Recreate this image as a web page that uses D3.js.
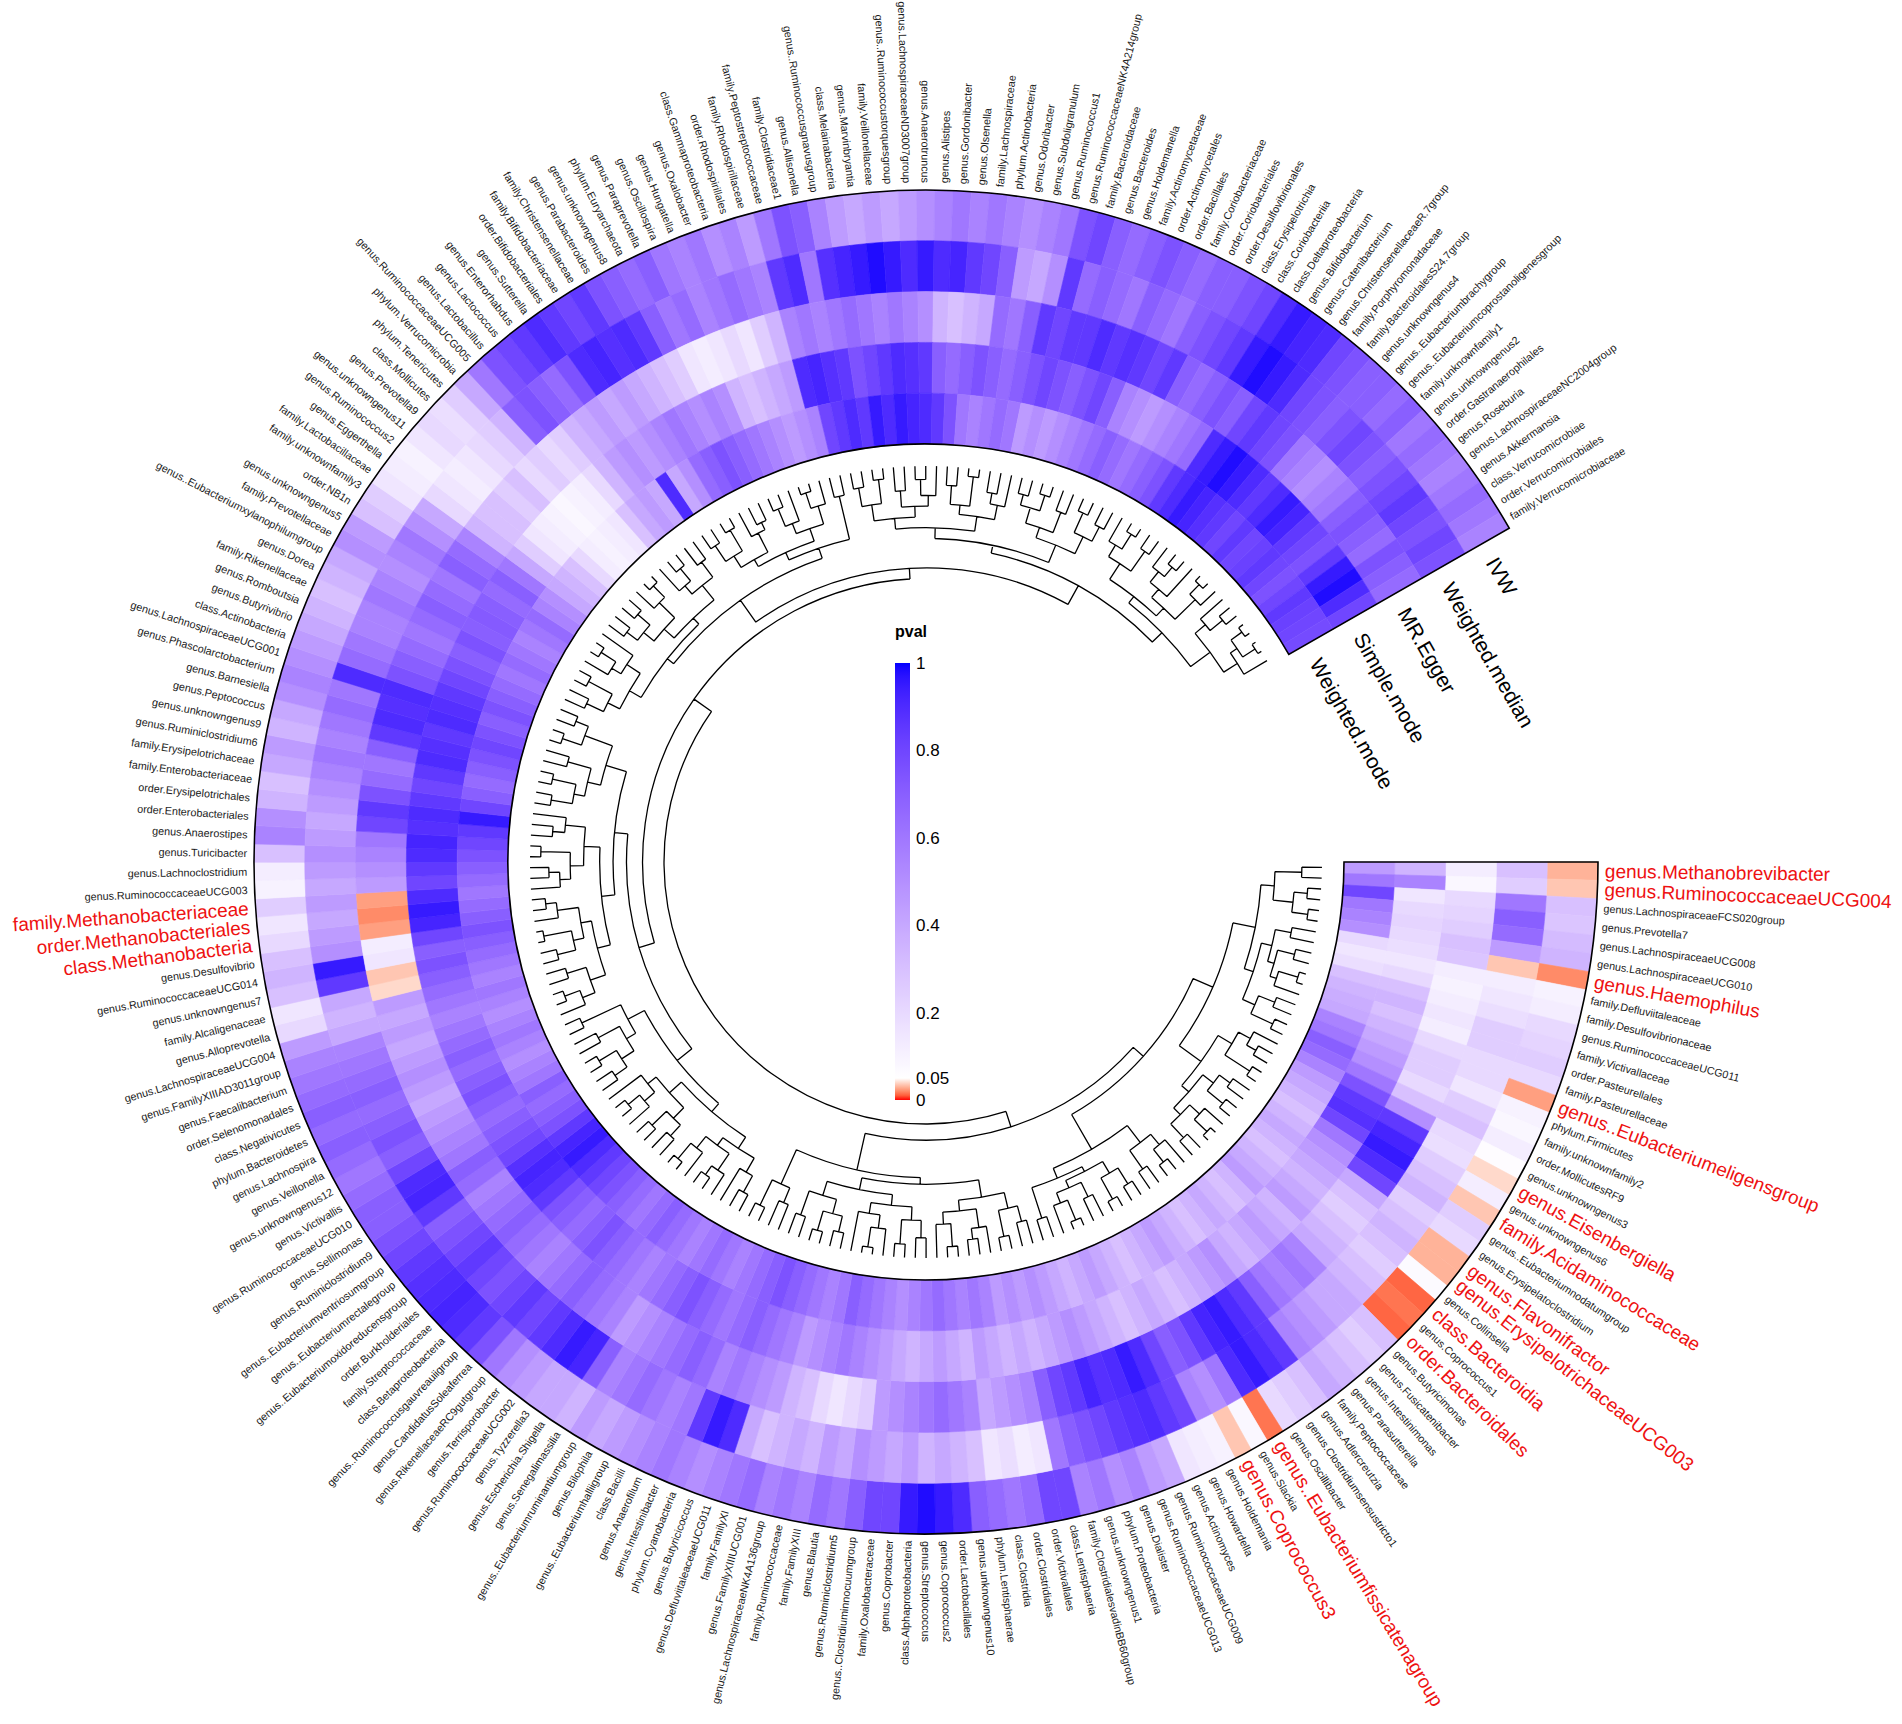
<!DOCTYPE html>
<html>
<head>
<meta charset="utf-8">
<script src="https://cdn.jsdelivr.net/npm/d3@7"></script>
<style>
  body { margin: 0; background: #fff; }
</style>
</head>
<body>
<div class="chart"></div>
<script>
// taxa in clockwise order, starting at 3 o'clock
const taxa = [
"genus.Methanobrevibacter","genus.RuminococcaceaeUCG004","genus.LachnospiraceaeFCS020group","genus.Prevotella7","genus.LachnospiraceaeUCG008","genus.LachnospiraceaeUCG010","genus.Haemophilus","family.Defluviitaleaceae","family.Desulfovibrionaceae","genus.RuminococcaceaeUCG011",
"family.Victivallaceae","order.Pasteurellales","family.Pasteurellaceae","genus..Eubacteriumeligensgroup","phylum.Firmicutes","family.unknownfamily2","order.MollicutesRF9","genus.unknowngenus3","genus.Eisenbergiella","genus.unknowngenus6",
"family.Acidaminococcaceae","genus..Eubacteriumnodatumgroup","genus.Erysipelatoclostridium","genus.Flavonifractor","genus.ErysipelotrichaceaeUCG003","genus.Collinsella","class.Bacteroidia","genus.Coprococcus1","order.Bacteroidales","genus.Butyricimonas",
"genus.Fusicatenibacter","genus.Intestinimonas","genus.Parasutterella","family.Peptococcaceae","genus.Adlercreutzia","genus.Clostridiumsensustricto1","genus.Oscillibacter","genus..Eubacteriumfissicatenagroup","genus.Slackia","genus.Coprococcus3",
"genus.Holdemania","genus.Howardella","genus.Actinomyces","genus.RuminococcaceaeUCG009","genus.RuminococcaceaeUCG013","genus.Dialister","phylum.Proteobacteria","genus.unknowngenus1","family.ClostridialesvadinBB60group","class.Lentisphaeria",
"order.Victivallales","order.Clostridiales","class.Clostridia","phylum.Lentisphaerae","genus.unknowngenus10","order.Lactobacillales","genus.Coprococcus2","genus.Streptococcus","class.Alphaproteobacteria","genus.Coprobacter",
"family.Oxalobacteraceae","genus..Clostridiuminnocuumgroup","genus.Ruminiclostridium5","genus.Blautia","family.FamilyXIII","family.Ruminococcaceae","genus.LachnospiraceaeNK4A136group","genus.FamilyXIIIUCG001","family.FamilyXI","genus.DefluviitaleaceaeUCG011",
"genus.Butyricicoccus","phylum.Cyanobacteria","genus.Intestinibacter","genus.Anaerofilum","class.Bacilli","genus..Eubacteriumhalliigroup","genus.Bilophila","genus..Eubacteriumruminantiumgroup","genus.Senegalimassilia","genus.Escherichia.Shigella",
"genus.Tyzzerella3","genus.RuminococcaceaeUCG002","genus.Terrisporobacter","genus.RikenellaceaeRC9gutgroup","genus.CandidatusSoleaferrea","genus..Ruminococcusgauvreauiigroup","class.Betaproteobacteria","family.Streptococcaceae","order.Burkholderiales","genus..Eubacteriumoxidoreducensgroup",
"genus..Eubacteriumrectalegroup","genus..Eubacteriumventriosumgroup","genus.Ruminiclostridium9","genus.Sellimonas","genus.RuminococcaceaeUCG010","genus.Victivallis","genus.unknowngenus12","genus.Veillonella","genus.Lachnospira","phylum.Bacteroidetes",
"class.Negativicutes","order.Selenomonadales","genus.Faecalibacterium","genus.FamilyXIIIAD3011group","genus.LachnospiraceaeUCG004","genus.Alloprevotella","family.Alcaligenaceae","genus.unknowngenus7","genus.RuminococcaceaeUCG014","genus.Desulfovibrio",
"class.Methanobacteria","order.Methanobacteriales","family.Methanobacteriaceae","genus.RuminococcaceaeUCG003","genus.Lachnoclostridium","genus.Turicibacter","genus.Anaerostipes","order.Enterobacteriales","order.Erysipelotrichales","family.Enterobacteriaceae",
"family.Erysipelotrichaceae","genus.Ruminiclostridium6","genus.unknowngenus9","genus.Peptococcus","genus.Barnesiella","genus.Phascolarctobacterium","genus.LachnospiraceaeUCG001","class.Actinobacteria","genus.Butyrivibrio","genus.Romboutsia",
"family.Rikenellaceae","genus.Dorea","genus..Eubacteriumxylanophilumgroup","family.Prevotellaceae","genus.unknowngenus5","order.NB1n","family.unknownfamily3","family.Lactobacillaceae","genus.Eggerthella","genus.Ruminococcus2",
"genus.unknowngenus11","genus.Prevotella9","class.Mollicutes","phylum.Tenericutes","phylum.Verrucomicrobia","genus.RuminococcaceaeUCG005","genus.Lactobacillus","genus.Lactococcus","genus.Enterorhabdus","genus.Sutterella",
"order.Bifidobacteriales","family.Bifidobacteriaceae","family.Christensenellaceae","genus.Parabacteroides","genus.unknowngenus8","phylum.Euryarchaeota","genus.Paraprevotella","genus.Oscillospira","genus.Hungatella","genus.Oxalobacter",
"class.Gammaproteobacteria","order.Rhodospirillales","family.Rhodospirillaceae","family.Peptostreptococcaceae","family.Clostridiaceae1","genus.Allisonella","genus..Ruminococcusgnavusgroup","class.Melainabacteria","genus.Marvinbryantia","family.Veillonellaceae",
"genus..Ruminococcustorquesgroup","genus.LachnospiraceaeND3007group","genus.Anaerotruncus","genus.Alistipes","genus.Gordonibacter","genus.Olsenella","family.Lachnospiraceae","phylum.Actinobacteria","genus.Odoribacter","genus.Subdoligranulum",
"genus.Ruminococcus1","genus.RuminococcaceaeNK4A214group","family.Bacteroidaceae","genus.Bacteroides","genus.Holdemanella","family.Actinomycetaceae","order.Actinomycetales","order.Bacillales","family.Coriobacteriaceae","order.Coriobacteriales",
"order.Desulfovibrionales","class.Erysipelotrichia","class.Coriobacteriia","class.Deltaproteobacteria","genus.Bifidobacterium","genus.Catenibacterium","genus.ChristensenellaceaeR.7group","family.Porphyromonadaceae","family.BacteroidalesS24.7group","genus.unknowngenus4",
"genus..Eubacteriumbrachygroup","genus..Eubacteriumcoprostanoligenesgroup","family.unknownfamily1","genus.unknowngenus2","order.Gastranaerophilales","genus.Roseburia","genus.LachnospiraceaeNC2004group","genus.Akkermansia","class.Verrucomicrobiae","order.Verrucomicrobiales",
"family.Verrucomicrobiaceae"
];

// highlighted taxa (drawn big and red)
const redTaxa = [
"genus.Methanobrevibacter","genus.RuminococcaceaeUCG004","genus.Haemophilus","genus..Eubacteriumeligensgroup",
"genus.Eisenbergiella","family.Acidaminococcaceae","genus.Flavonifractor","genus.ErysipelotrichaceaeUCG003",
"class.Bacteroidia","order.Bacteroidales","genus..Eubacteriumfissicatenagroup","genus.Coprococcus3",
"class.Methanobacteria","order.Methanobacteriales","family.Methanobacteriaceae"
];

// methods, outer ring first
const methods = ["IVW", "Weighted.median", "MR.Egger", "Simple.mode", "Weighted.mode"];

// p values per method (same order as taxa)
const ivw = [
.03,.035,.30,.28,.32,.35,.02,.10,.12,.20, .22,.25,.20,.025,.10,.08,.12,.06,.04,.12,
.035,.25,.20,.03,.03,.07,.012,.015,.012,.30, .25,.30,.35,.40,.30,.25,.20,.015,.08,.035,
.10,.12,.15,.40,.45,.55,.50,.60,.55,.80, .80,.65,.60,.65,.70,.90,.95,.98,.95,.80,
.80,.70,.60,.65,.55,.60,.55,.65,.60,.55, .50,.55,.60,.55,.50,.45,.40,.45,.35,.40,
.40,.45,.50,.60,.75,.85,.90,.92,.90,.88, .85,.80,.75,.70,.70,.65,.60,.65,.70,.65,
.70,.65,.60,.55,.45,.20,.15,.30,.35,.30, .20,.15,.25,.10,.12,.30,.55,.50,.35,.30,
.40,.45,.35,.40,.50,.55,.50,.45,.40,.35, .30,.35,.40,.50,.45,.30,.25,.15,.12,.10,
.15,.20,.18,.25,.40,.60,.75,.80,.85,.90, .85,.80,.85,.75,.70,.65,.70,.60,.55,.60,
.50,.55,.45,.60,.75,.70,.55,.45,.40,.45, .40,.45,.50,.55,.60,.55,.60,.55,.50,.55,
.60,.75,.80,.70,.65,.70,.75,.70,.65,.70, .70,.75,.80,.90,.95,.92,.90,.80,.75,.70,
.70,.65,.70,.60,.65,.60,.55,.60,.65,.60,.55
];
const weightedMedian = [
.30,.25,.60,.70,.65,.45,.035,.12,.15,.18, .25,.25,.20,.20,.15,.25,.30,.20,.18,.25,
.30,.35,.25,.30,.35,.30,.25,.30,.35,.40, .40,.45,.50,.55,.85,.90,.95,.90,.60,.50,
.55,.80,.85,.90,.88,.85,.80,.75,.70,.60, .15,.12,.18,.15,.30,.35,.40,.35,.45,.40,
.45,.50,.40,.45,.35,.40,.35,.30,.40,.90, .95,.85,.60,.55,.60,.65,.60,.55,.70,.92,
.95,.90,.85,.80,.85,.80,.75,.80,.85,.80, .75,.70,.85,.92,.90,.80,.70,.75,.70,.65,
.70,.65,.60,.55,.40,.35,.40,.85,.95,.50, .45,.40,.45,.40,.45,.50,.45,.40,.45,.50,
.55,.60,.55,.60,.65,.60,.90,.65,.60,.55, .55,.60,.55,.50,.55,.60,.50,.40,.20,.15,
.12,.15,.20,.25,.35,.70,.75,.70,.65,.75, .90,.92,.88,.90,.85,.70,.60,.65,.55,.60,
.65,.60,.55,.85,.90,.60,.88,.92,.95,.98, .95,.90,.95,.90,.92,.85,.80,.70,.45,.40,
.50,.85,.65,.70,.65,.60,.70,.65,.60,.70, .75,.80,.85,.95,.98,.95,.90,.80,.75,.70,
.75,.80,.75,.70,.75,.80,.85,.80,.75,.80,.75
];
const mrEgger = [
.12,.08,.20,.22,.25,.30,.28,.12,.10,.12, .15,.12,.20,.25,.25,.20,.30,.50,.85,.92,
.95,.90,.80,.40,.30,.25,.30,.35,.40,.55, .60,.55,.60,.70,.85,.90,.95,.92,.85,.75,
.70,.80,.90,.95,.90,.88,.92,.85,.80,.70, .55,.50,.45,.40,.55,.60,.65,.60,.55,.50,
.45,.25,.20,.15,.20,.30,.35,.45,.50,.55, .60,.55,.65,.70,.65,.60,.55,.50,.45,.55,
.60,.65,.70,.65,.60,.55,.60,.65,.70,.65, .60,.55,.65,.70,.60,.55,.50,.45,.40,.45,
.50,.45,.40,.45,.40,.45,.04,.035,.15,.12, .025,.02,.025,.45,.50,.55,.60,.80,.85,.75,
.65,.60,.70,.85,.90,.88,.90,.75,.70,.65, .60,.65,.70,.65,.60,.70,.65,.55,.35,.30,
.30,.25,.30,.20,.25,.20,.25,.35,.40,.45, .40,.45,.40,.35,.30,.25,.15,.12,.15,.20,
.15,.25,.35,.55,.60,.55,.60,.65,.60,.55, .60,.55,.50,.35,.30,.35,.40,.65,.60,.70,
.85,.80,.85,.85,.90,.85,.88,.85,.80,.85, .70,.65,.70,.75,.70,.80,.85,.80,.75,.60,
.55,.50,.55,.60,.70,.75,.70,.65,.75,.70,.65
];
const simpleMode = [
.35,.55,.15,.20,.22,.20,.18,.15,.20,.30, .35,.30,.35,.40,.45,.50,.60,.75,.85,.88,
.80,.60,.50,.45,.40,.35,.40,.45,.35,.40, .45,.40,.35,.40,.50,.45,.40,.35,.30,.35,
.40,.35,.30,.35,.40,.45,.50,.45,.40,.35, .40,.35,.40,.45,.35,.40,.45,.40,.35,.40,
.45,.50,.55,.60,.55,.50,.45,.55,.60,.65, .70,.65,.60,.65,.70,.75,.70,.65,.60,.55,
.60,.65,.70,.75,.70,.65,.70,.75,.85,.90, .92,.88,.80,.75,.70,.65,.70,.75,.70,.65,
.70,.65,.60,.55,.60,.65,.70,.75,.70,.80, .92,.95,.90,.80,.85,.90,.92,.88,.90,.85,
.80,.85,.90,.88,.85,.90,.88,.85,.80,.75, .70,.75,.70,.72,.70,.65,.70,.60,.40,.25,
.15,.12,.10,.08,.10,.12,.20,.35,.45,.50, .45,.50,.55,.60,.55,.50,.55,.50,.35,.30,
.35,.40,.45,.90,.92,.88,.85,.75,.80,.85, .90,.88,.85,.70,.65,.70,.75,.70,.65,.70,
.75,.80,.75,.70,.75,.80,.70,.55,.50,.45, .50,.55,.60,.65,.90,.95,.98,.95,.90,.85,
.90,.95,.92,.85,.80,.75,.85,.95,.98,.90,.80
];
const weightedMode = [
.45,.60,.80,.60,.55,.50,.20,.15,.18,.30, .35,.38,.40,.55,.60,.70,.65,.55,.45,.40,
.35,.30,.35,.40,.35,.30,.35,.40,.45,.35, .30,.35,.40,.35,.30,.35,.40,.45,.40,.35,
.30,.35,.40,.45,.40,.35,.40,.45,.50,.45, .50,.45,.55,.60,.55,.60,.65,.60,.55,.50,
.55,.60,.65,.70,.60,.55,.60,.65,.70,.75, .70,.65,.60,.55,.60,.65,.60,.55,.60,.65,
.70,.65,.60,.65,.70,.75,.80,.85,.90,.95, .92,.85,.75,.70,.65,.70,.60,.55,.50,.55,
.60,.55,.50,.55,.60,.55,.60,.65,.70,.75, .70,.65,.60,.65,.70,.75,.80,.85,.95,.80,
.70,.65,.70,.75,.80,.75,.70,.75,.70,.65, .60,.65,.60,.55,.60,.65,.55,.50,.40,.35,
.30,.20,.12,.10,.12,.15,.30,.40,.45,.40, .90,.40,.50,.65,.70,.75,.70,.65,.60,.55,
.50,.45,.50,.55,.80,.85,.90,.85,.95,.90, .95,.92,.90,.85,.75,.60,.55,.60,.65,.60,
.45,.50,.45,.50,.55,.60,.65,.70,.65,.60, .65,.70,.75,.85,.90,.95,.92,.88,.85,.80,
.85,.80,.82,.85,.80,.75,.80,.85,.82,.80,.78
];

// dendrogram: height at which taxon i joins taxon i+1 (0 = leaves, 1 = root)
const mergeHeights = [
.15,.35,.10,.20,.08,.45,.18,.30,.12,.25, .05,.20,.38,.15,.28,.10,.62,.20,.12,.30,
.08,.42,.15,.25,.10,.35,.18,.05,.28,.14, .78,.22,.10,.32,.15,.48,.12,.26,.08,.36,
.18,.30,.06,.22,.40,.16,.88,.18,.30,.10, .42,.20,.12,.34,.08,.25,.55,.15,.28,.10,
.38,.20,.05,.30,.46,.12,.24,.09,.35,.16, .60,.20,.32,.11,1.0,.14,.28,.40,.18,.10,
.33,.22,.07,.50,.16,.27,.12,.38,.20,.09, .30,.58,.14,.25,.10,.36,.18,.44,.12,.72,
.20,.08,.30,.15,.42,.12,.26,.05,.34,.18, .10,.52,.22,.14,.30,.08,.40,.16,.25,.62,
.12,.28,.10,.36,.18,.46,.09,.24,.14,.84, .16,.30,.10,.40,.20,.07,.28,.50,.14,.24,
.12,.34,.18,.06,.44,.22,.10,.30,.16,.56, .12,.26,.08,.36,.20,.14,.42,.10,.24,.32,
.06,.18,.48,.15,.76,.12,.26,.08,.38,.18, .30,.10,.22,.46,.14,.28,.06,.35,.16,.24,
.54,.12,.20,.08,.32,.16,.40,.10,.26,.14, .60,.20,.07,.30,.12,.44,.18,.09,.28,.36,
.05,.15,.50,.22,.10,.32,.04,.14,.03,.20
];

const legendTicks = [1, 0.8, 0.6, 0.4, 0.2, 0.05, 0];

const series = {
  "IVW": ivw,
  "Weighted.median": weightedMedian,
  "MR.Egger": mrEgger,
  "Simple.mode": simpleMode,
  "Weighted.mode": weightedMode
};

// layout
const W = 1902, H = 1724;
const cx = 926, cy = 862;
const rInner = 418, rOuter = 672;
const rLeaf = 396, rRoot = 262;
const labelGap = 7;
const deg = Math.PI / 180;
const startA = 90 * deg;
const stepA = 1.565 * deg;
const endA = startA + stepA * taxa.length;
const font = "Arial, 'Liberation Sans', sans-serif";

const svg = d3.select(".chart")
  .append("svg")
  .attr("width", W)
  .attr("height", H)
  .style("background", "#fff");

const g = svg.append("g").attr("transform", `translate(${cx},${cy})`);

// scales
const angle = d3.scaleBand().domain(d3.range(taxa.length)).range([startA, endA]).padding(0);
const ring = d3.scaleBand().domain(methods.slice().reverse()).range([rInner, rOuter]).padding(0);
const color = d3.scaleLinear()
  .domain([0, 0.05, 1])
  .range(["#ff0000", "#ffffff", "#0000ff"])
  .interpolate(d3.interpolateLab)
  .clamp(true);
const height = d3.scaleLinear().domain([0, 1]).range([rLeaf, rRoot]);

const arc = d3.arc();

// heatmap cells
methods.forEach(m => {
  const vals = series[m];
  g.append("g")
    .attr("class", "ring")
    .selectAll("path")
    .data(vals)
    .join("path")
    .attr("d", (d, i) => arc({
      innerRadius: ring(m),
      outerRadius: ring(m) + ring.bandwidth(),
      startAngle: angle(i),
      endAngle: angle(i) + angle.bandwidth()
    }))
    .attr("fill", d => color(d))
    .attr("stroke", d => color(d))
    .attr("stroke-width", 0.6);
});

// heatmap border
g.append("path")
  .attr("d", arc({ innerRadius: rInner, outerRadius: rOuter, startAngle: startA, endAngle: endA }))
  .attr("fill", "none")
  .attr("stroke", "#000")
  .attr("stroke-width", 1.6);

// dendrogram
const polar = (a, r) => [r * Math.sin(a), -r * Math.cos(a)];
const tree = d3.path();
function build(lo, hi) {
  if (lo === hi) return { a: angle(lo) + angle.bandwidth() / 2, h: 0 };
  let m = lo;
  for (let j = lo; j < hi; j++) if (mergeHeights[j] > mergeHeights[m]) m = j;
  const left = build(lo, m), right = build(m + 1, hi);
  const h = mergeHeights[m];
  const r = height(h);
  [left, right].forEach(c => {
    tree.moveTo(...polar(c.a, height(c.h)));
    tree.lineTo(...polar(c.a, r));
  });
  tree.moveTo(...polar(left.a, r));
  tree.arc(0, 0, r, left.a - Math.PI / 2, right.a - Math.PI / 2, false);
  return { a: (left.a + right.a) / 2, h };
}
build(0, taxa.length - 1);
g.append("path")
  .attr("d", tree.toString())
  .attr("fill", "none")
  .attr("stroke", "#000")
  .attr("stroke-width", 1.3);

// taxon labels
const midDeg = i => (angle(i) + angle.bandwidth() / 2) / deg;
const isFlipped = i => {
  const b = ((midDeg(i) % 360) + 360) % 360;
  return b > 180 && b < 360;
};
g.append("g")
  .selectAll("text")
  .data(taxa)
  .join("text")
  .attr("transform", (d, i) =>
    `rotate(${midDeg(i) - 90}) translate(${rOuter + labelGap},0)` + (isFlipped(i) ? " rotate(180)" : ""))
  .attr("text-anchor", (d, i) => isFlipped(i) ? "end" : "start")
  .attr("dominant-baseline", "central")
  .style("font-family", font)
  .style("font-size", d => redTaxa.includes(d) ? "19px" : "10.8px")
  .attr("fill", d => redTaxa.includes(d) ? "#ee1111" : "#1a1a1a")
  .text(d => d);

// method labels at the end of the rings
g.append("g")
  .selectAll("text")
  .data(methods)
  .join("text")
  .attr("transform", m => {
    const r = ring(m) + ring.bandwidth() / 2;
    return `rotate(${endA / deg - 90}) translate(${r},0) rotate(90) translate(18,5)`;
  })
  .attr("dominant-baseline", "central")
  .style("font-family", font)
  .style("font-size", "21px")
  .attr("fill", "#000")
  .text(m => m);

// legend
const ly = d3.scaleLinear().domain([0, 1]).range([1100, 663]);
const grad = svg.append("defs").append("linearGradient")
  .attr("id", "pgrad")
  .attr("x1", 0).attr("y1", 0).attr("x2", 0).attr("y2", 1);
// stops must go top (p = 1) to bottom (p = 0)
d3.range(100, -1, -1).forEach(k => {
  const v = k / 100;
  grad.append("stop")
    .attr("offset", 1 - v)
    .attr("stop-color", color(v));
});
const legend = svg.append("g").attr("class", "legend");
legend.append("rect")
  .attr("x", 895)
  .attr("y", ly(1))
  .attr("width", 15)
  .attr("height", ly(0) - ly(1))
  .attr("fill", "url(#pgrad)");
legend.append("text")
  .attr("x", 895)
  .attr("y", 637)
  .style("font-family", font)
  .style("font-size", "16px")
  .style("font-weight", "bold")
  .text("pval");
const legendAxis = legend.append("g")
  .attr("transform", "translate(910,0)")
  .call(d3.axisRight(ly).tickValues(legendTicks).tickSize(0).tickPadding(6).tickFormat(d => String(d)));
legendAxis.select(".domain").remove();
legendAxis.selectAll("text")
  .style("font-family", font)
  .style("font-size", "17px")
  .attr("fill", "#000");
</script>
</body>
</html>
